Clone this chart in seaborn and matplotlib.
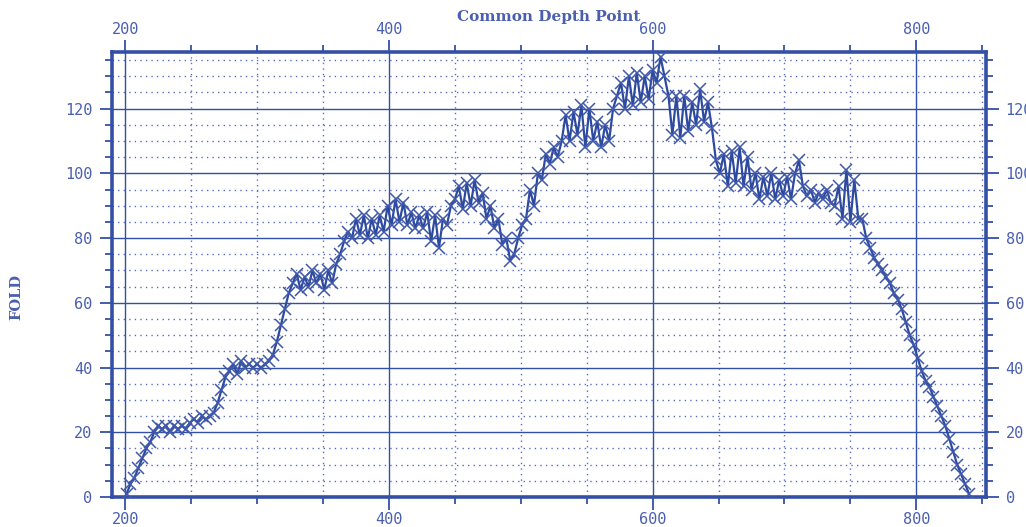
import matplotlib
matplotlib.use('Agg')
import matplotlib.pyplot as plt
import numpy as np
import pandas as pd
import seaborn as sns
from matplotlib.ticker import MultipleLocator

# CDP positions: every third CDP from 201 up to 840
cdp_first = 201
cdp_step = 3

# fold, in four stretches
fold_ramp = [1, 4, 6, 9, 12, 15, 17, 20, 22, 21,
             22, 20, 22, 21, 22, 21, 23, 24, 23, 25,
             24, 25, 26, 29, 33, 37, 39, 41, 38, 42,
             40, 41, 40, 41, 40, 41, 42, 44, 48, 53,
             58, 63, 66, 69, 64, 68, 65, 70, 66, 69]
fold_middle = [64, 70, 66, 72, 75, 79, 82, 80, 86, 81,
               87, 80, 86, 81, 87, 82, 90, 84, 92, 85,
               91, 84, 88, 83, 87, 83, 88, 79, 87, 77,
               86, 84, 90, 92, 96, 89, 97, 90, 98, 91,
               94, 86, 90, 83, 86, 78, 80, 73, 75, 80]
fold_peak = [84, 86, 95, 90, 100, 98, 106, 103, 108, 105,
             110, 118, 110, 119, 112, 121, 108, 120, 110, 116,
             108, 115, 110, 120, 124, 128, 120, 130, 121, 131,
             122, 130, 123, 132, 128, 136, 130, 124, 112, 124,
             111, 124, 113, 122, 115, 126, 116, 122, 114, 104]
fold_tail = [100, 106, 96, 107, 97, 108, 96, 105, 95, 100,
             92, 99, 93, 100, 92, 98, 93, 99, 92, 100,
             104, 96, 93, 95, 91, 94, 92, 95, 91, 90,
             96, 86, 101, 85, 98, 86, 86, 80, 77, 74,
             72, 70, 68, 66, 63, 61, 58, 54, 50, 47,
             43, 39, 36, 34, 31, 28, 25, 22, 18, 14,
             10, 7, 4, 1]

x_major = [200, 400, 600, 800]

fold = fold_ramp + fold_middle + fold_peak + fold_tail
cdp = cdp_first + cdp_step * np.arange(len(fold))
df = pd.DataFrame({'cdp': cdp, 'fold': fold})

blue = '#3450a6'
text_blue = '#4a5fae'

sns.set_style('white')
plt.rcParams['font.family'] = ['DejaVu Sans Mono', 'DejaVu Sans']

fig = plt.figure(figsize=(10.26, 5.27), dpi=100)
ax = fig.add_axes([0.1092, 0.0569, 0.852, 0.8444])

sns.lineplot(data=df, x='cdp', y='fold', ax=ax, color='#2e4a9f', linewidth=1.6,
             marker='x', markersize=9, markeredgewidth=1.1,
             markeredgecolor='#3f58aa', estimator=None, sort=False, zorder=5)

ax.set_xlim(190, 853)
ax.set_ylim(0, 137.5)
ax.xaxis.set_major_locator(MultipleLocator(200))
ax.xaxis.set_minor_locator(MultipleLocator(50))
ax.yaxis.set_major_locator(MultipleLocator(20))
ax.yaxis.set_minor_locator(MultipleLocator(5))
ax.set_xticks(x_major)

ax.grid(which='major', color=blue, linestyle='-', linewidth=1.0)
ax.grid(which='minor', color='#5a6cc0', linestyle=(0, (1, 3)), linewidth=1.0)
ax.set_axisbelow(True)

for s in ax.spines.values():
    s.set_visible(True)
    s.set_color(blue)
    s.set_linewidth(2.6)

ax.tick_params(which='both', direction='out', color=blue, labelcolor=text_blue,
               top=True, bottom=True, left=True, right=True,
               labeltop=True, labelright=True, labelsize=11)
ax.tick_params(which='major', length=9, width=1.3)
ax.tick_params(which='minor', length=5, width=1.3)
ax.tick_params(axis='x', which='major', pad=2)
ax.tick_params(axis='y', which='major', pad=5)

ax.set_xlabel('')
ax.set_ylabel('')
fig.text(0.535, 0.967, 'Common Depth Point', ha='center', va='center',
         family='DejaVu Serif', fontweight='bold', fontsize=11, color=text_blue)
fig.text(0.016, 0.437, 'FOLD', ha='center', va='center', rotation=90,
         family='DejaVu Serif', fontweight='bold', fontsize=10.5, color=text_blue)

fig.savefig('out.png', dpi=100)
